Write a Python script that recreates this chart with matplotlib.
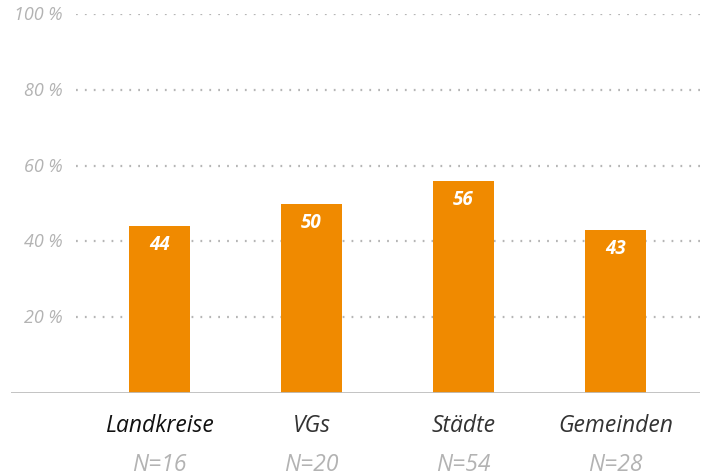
import numpy as np
from matplotlib import pyplot as plt

categories = ['Landkreise', 'VGs', 'Städte', 'Gemeinden']
n_labels = ['N=16', 'N=20', 'N=54', 'N=28']
values = [44, 50, 56, 43]
yticks = [20, 40, 60, 80, 100]

FONT = ['Open Sans', 'DejaVu Sans']
orange = '#f08a00'
grey = '#b3b3b3'

fig = plt.figure(figsize=(7.04, 4.77), dpi=100)
ax = fig.add_axes([11/704, 83/477, 689/704, 379/477])

x = np.arange(len(categories))
ax.bar(x, values, width=0.40, color=orange, zorder=3)

xmin, xmax = -0.977, 3.556
ax.set_xlim(xmin, xmax)
ax.set_ylim(0, 100)

# dotted grid lines, starting right of the labels
for t in yticks:
	ax.hlines(t, -0.55, xmax, colors='#b5b5b5', linestyles=(0, (0.8, 3.2)), linewidth=1.6, zorder=1)
	ax.text(-0.64, t, str(t) + ' %', ha='right', va='center', fontsize=13,
		style='italic', color=grey, family=FONT)

ax.axhline(0, color='#bdbdbd', linewidth=2, zorder=4)

for i, v in enumerate(values):
	ax.annotate(str(v), (x[i], v), xytext=(0, -13), textcoords='offset points',
		ha='center', va='center', fontsize=13.5, fontweight='bold', style='italic',
		color='white', family=FONT, zorder=5)

for i, (c, n) in enumerate(zip(categories, n_labels)):
	col = '#111111' if i == 0 else '#333333'
	ax.annotate(c, (x[i], 0), xytext=(0, -23), textcoords='offset points',
		ha='center', va='center', fontsize=16.5, style='italic', color=col, family=FONT)
	ax.annotate(n, (x[i], 0), xytext=(0, -51), textcoords='offset points',
		ha='center', va='center', fontsize=16.5, style='italic', color=grey, family=FONT)

ax.axis('off')
plt.savefig('out.png', dpi=100)
